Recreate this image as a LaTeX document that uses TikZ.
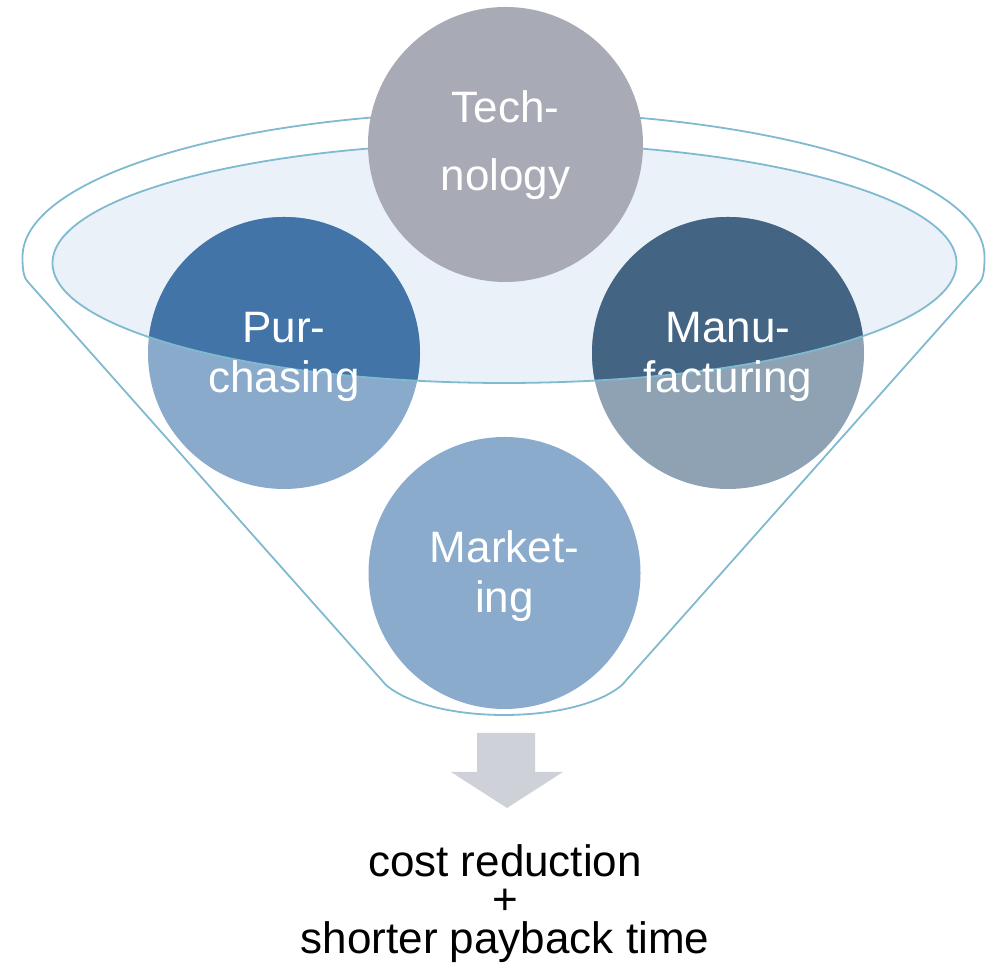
\documentclass[tikz,border=0pt]{standalone}
\usepackage{fontspec}
\setmainfont{Liberation Sans}
\definecolor{rimblue}{RGB}{128,186,208}
\definecolor{glass}{RGB}{234,241,248}
\definecolor{techgray}{RGB}{168,170,182}
\definecolor{purchdark}{RGB}{66,116,168}
\definecolor{purchlight}{RGB}{138,170,203}
\definecolor{manudark}{RGB}{68,100,131}
\definecolor{manulight}{RGB}{143,162,180}
\definecolor{markblue}{RGB}{138,171,203}
\definecolor{arrowgray}{RGB}{206,210,216}

\begin{document}
\begin{tikzpicture}
[x=1pt,y=1pt,
 disc/.style={circle,minimum size=272pt,inner sep=0pt},
 lbl/.style={text=white,align=center,font=\fontsize{44}{50}\selectfont,yshift=-3.5pt},
 rim/.style={draw=rimblue,line width=1.8pt}]
\useasboundingbox (0,0) rectangle (991,965);
% funnel outline
\draw[rim] (22.5,708) arc[start angle=180,end angle=0,x radius=481,y radius=145]
  .. controls (984.5,698) and (984,688) .. (980,683) -- (622,280)
  .. controls (575,240) and (433,240) .. (386,280) -- (28,683)
  .. controls (23,688) and (22.5,698) .. (22.5,708) -- cycle;
% top opening
\fill[glass] (504.5,702) ellipse[x radius=452,y radius=120];
\node[disc,fill=purchlight] (purch) at (284,612) {};
\node[disc,fill=manulight] (manu) at (728,612) {};
\node[disc,fill=markblue] (mark) at (504.5,392) {};
\begin{scope}
\clip (504.5,702) ellipse[x radius=452,y radius=120];
\fill[purchdark] (purch) circle[radius=136];
\fill[manudark] (manu) circle[radius=136];
\end{scope}
\draw[rim] (504.5,702) ellipse[x radius=452,y radius=120];
\node[disc,minimum size=275pt,fill=techgray] (tech) at (505.5,820.5) {};
% labels
\node[lbl,font=\fontsize{44}{68}\selectfont,yshift=3pt] (techtxt) at (tech) {Tech-\\nology};
\node[lbl] (purchtxt) at (purch) {Pur-\\chasing};
\node[lbl] (manutxt) at (manu) {Manu-\\facturing};
\node[lbl] (marktxt) at (mark) {Market-\\ing};
% outcome
\fill[arrowgray] (477,232) -- (535,232) -- (535,193) -- (563,193) -- (507,157)
  -- (451,193) -- (477,193) -- cycle;
\node[anchor=north,inner sep=0pt,align=center,font=\fontsize{44}{38.5}\selectfont]
  (result) at (505,121) {cost reduction\\+\\shorter payback time};
\end{tikzpicture}
\end{document}
